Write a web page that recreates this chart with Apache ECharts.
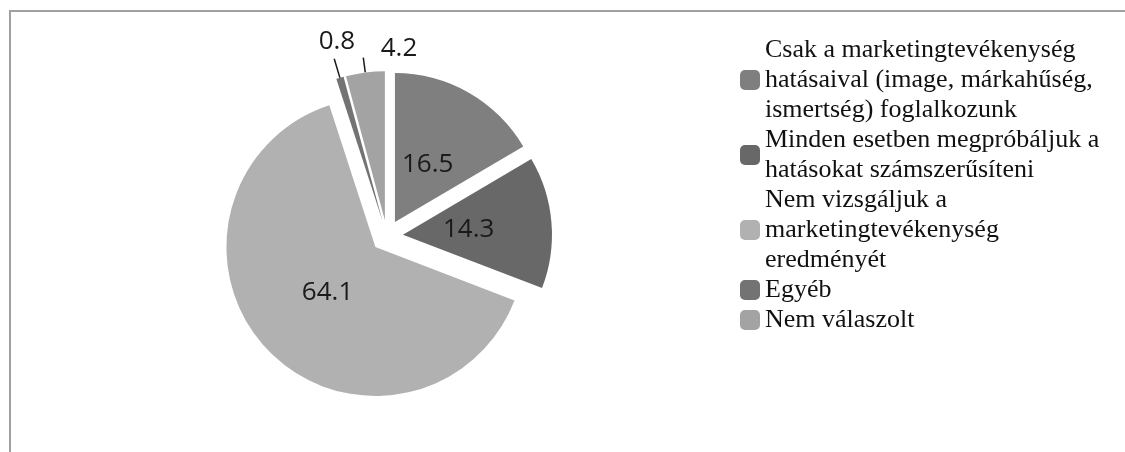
<!DOCTYPE html>
<html>
<head>
<meta charset="utf-8">
<script src="https://cdn.jsdelivr.net/npm/echarts@6/dist/echarts.min.js"></script>
<style>
  html, body { margin: 0; padding: 0; background: #ffffff; }
  #chart { width: 1125px; height: 452px; }
</style>
</head>
<body>
<div id="chart"></div>
<script>
// Category names (legend text, with line breaks where the legend wraps)
const categories = [
  'Csak a marketingtevékenység\nhatásaival (image, márkahűség,\nismertség) foglalkozunk',
  'Minden esetben megpróbáljuk a\nhatásokat számszerűsíteni',
  'Nem vizsgáljuk a\nmarketingtevékenység\neredményét',
  'Egyéb',
  'Nem válaszolt'
];
// Share of responses (%)
const values = [16.5, 14.3, 64.1, 0.8, 4.2];
// Slice fills
const colors = ['#7f7f7f', '#686868', '#b1b1b1', '#737373', '#a3a3a3'];
// Slices labelled inside the pie; the rest get an outside label with a leader line
const insideLabelled = [true, true, true, false, false];

const CENTER = [387, 236];
const RADIUS = 149;
const EXPLODE = 16;
const LABEL_FONT = { fontFamily: 'Open Sans', fontSize: 26, color: '#1a1a1a' };

// Leader-line length and text nudges for the two thin slices at the top.
// The outside label carries an empty second line, so half its line height
// lifts the number above the end of the leader line.
const outerLabelStyle = {
  3: { line: 20, distance: -21, lift: 34 },
  4: { line: 15, distance: -54, lift: 18 }
};

const chart = echarts.init(document.getElementById('chart'), null, { renderer: 'canvas' });

const mainData = categories.map((name, i) => {
  const item = {
    name: name,
    value: values[i],
    selected: true,
    itemStyle: { color: colors[i] },
    label: { show: false },
    labelLine: { show: false }
  };
  const o = outerLabelStyle[i];
  if (!insideLabelled[i] && o) {
    item.label = { show: true, distanceToLabelLine: o.distance, lineHeight: o.lift };
    item.labelLine = { show: true, length: o.line, length2: 0 };
  }
  return item;
});

const labelData = categories.map((name, i) => ({
  name: name,
  value: values[i],
  selected: true,
  label: { show: insideLabelled[i] }
}));

chart.setOption({
  animation: false,
  backgroundColor: '#ffffff',
  graphic: [
    // frame edges around the plot area
    { type: 'line', silent: true, shape: { x1: 9, y1: 11, x2: 1125, y2: 11 },
      style: { stroke: '#a0a0a0', lineWidth: 2 } },
    { type: 'line', silent: true, shape: { x1: 10, y1: 11, x2: 10, y2: 452 },
      style: { stroke: '#a0a0a0', lineWidth: 2 } }
  ],
  legend: {
    orient: 'vertical',
    left: 735,
    top: 30,
    itemWidth: 20,
    itemHeight: 20,
    itemGap: 0,
    selectedMode: false,
    data: categories,
    textStyle: {
      fontFamily: 'Liberation Serif',
      fontSize: 26,
      lineHeight: 30,
      color: '#111111'
    }
  },
  series: [
    {
      type: 'pie',
      name: 'main',
      center: CENTER,
      radius: RADIUS,
      startAngle: 90,
      clockwise: true,
      selectedMode: 'multiple',
      selectedOffset: EXPLODE,
      avoidLabelOverlap: false,
      emphasis: { disabled: true },
      select: { itemStyle: { borderWidth: 0 } },
      itemStyle: { borderWidth: 0 },
      label: Object.assign({
        position: 'outside',
        formatter: p => p.value.toFixed(1) + '\n '
      }, LABEL_FONT),
      labelLine: {
        length: 14,
        length2: 0,
        minTurnAngle: 0,
        maxSurfaceAngle: 180,
        lineStyle: { color: '#1a1a1a', width: 1.5 }
      },
      data: mainData
    },
    {
      // transparent twin ring that only carries the inner value labels
      type: 'pie',
      name: 'labels',
      center: CENTER,
      radius: 126,
      startAngle: 90,
      clockwise: true,
      selectedMode: 'multiple',
      selectedOffset: EXPLODE,
      silent: true,
      emphasis: { disabled: true },
      itemStyle: { color: 'rgba(0,0,0,0)', borderWidth: 0 },
      select: { itemStyle: { color: 'rgba(0,0,0,0)', borderWidth: 0 } },
      label: Object.assign({
        position: 'inside',
        formatter: p => p.value.toFixed(1)
      }, LABEL_FONT),
      labelLine: { show: false },
      data: labelData
    }
  ]
});
</script>
</body>
</html>
